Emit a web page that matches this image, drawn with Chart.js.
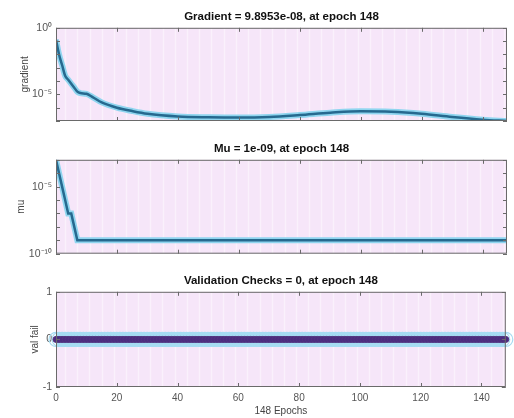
<!DOCTYPE html>
<html>
<head>
<meta charset="utf-8">
<script src="https://cdn.jsdelivr.net/npm/chart.js@4.4.0/dist/chart.umd.min.js"></script>
<style>
  body { margin: 0; background: #fff; width: 514px; height: 418px; position: relative; overflow: hidden; }
  canvas { position: absolute; left: 0; }
</style>
</head>
<body>
<canvas id="gradChart" width="514" height="132" style="top:0"></canvas>
<canvas id="muChart" width="514" height="132" style="top:132px"></canvas>
<canvas id="valChart" width="514" height="154" style="top:264px"></canvas>
<script>
// --- data ---
const gradEpochs = [0, 1, 2, 3, 4, 5, 6, 7, 8, 10, 12, 15, 20, 25, 30, 40, 50, 60, 70, 80, 90, 100, 110, 120, 130, 140, 148];
const gradValues = [0.126, 0.01, 1.6e-3, 2.5e-4, 1.26e-4, 6.3e-5, 3.2e-5, 1.6e-5, 1.26e-5, 1.1e-5, 6.3e-6, 2.5e-6, 1e-6,
                    5.6e-7, 3.5e-7, 2.2e-7, 1.9e-7, 1.8e-7, 2e-7, 2.8e-7, 4.2e-7, 5.4e-7, 5e-7, 3.5e-7, 2e-7, 1.26e-7, 9.8953e-8];

const muEpochs = [0, 1, 2, 3, 4, 5, 6, 7, 148];
const muValues = [1e-3, 1e-4, 1e-5, 1e-6, 1e-7, 1e-7, 1e-8, 1e-9, 1e-9];

// validation checks, one per epoch 0..148
const valFail = [
  0,0,0,0,0,0,0,0,0,0, 0,0,0,0,0,0,0,0,0,0, 0,0,0,0,0,0,0,0,0,0,
  0,0,0,0,0,0,0,0,0,0, 0,0,0,0,0,0,0,0,0,0, 0,0,0,0,0,0,0,0,0,0,
  0,0,0,0,0,0,0,0,0,0, 0,0,0,0,0,0,0,0,0,0, 0,0,0,0,0,0,0,0,0,0,
  0,0,0,0,0,0,0,0,0,0, 0,0,0,0,0,0,0,0,0,0, 0,0,0,0,0,0,0,0,0,0,
  0,0,0,0,0,0,0,0,0,0, 0,0,0,0,0,0,0,0,0,0, 0,0,0,0,0,0,0,0,0
];

const xTicks = [0, 20, 40, 60, 80, 100, 120, 140];
const gradTicks = [1e-7, 1e-6, 1e-5, 1e-4, 1e-3, 1e-2, 1e-1, 1];
const gradTickLabels = ['', '', '10⁻⁵', '', '', '', '', '10⁰'];
const muTicks = [1e-10, 1e-9, 1e-8, 1e-7, 1e-6, 1e-5, 1e-4, 1e-3];
const muTickLabels = ['10⁻¹⁰', '', '', '', '', '10⁻⁵', '', ''];
const valTicks = [-1, 0, 1];
const valTickLabels = ['-1', '0', '1'];

const lastEpoch = 148;

Chart.defaults.font.family = '"Liberation Sans", Arial, sans-serif';
Chart.defaults.animation = false;

// pink axes background, faint stripes, box and inward tick marks
const axesBox = {
  id: 'axesBox',
  beforeDatasetsDraw(chart) {
    const { ctx, chartArea: a, scales } = chart;
    ctx.save();
    ctx.fillStyle = '#f6e6f9';
    ctx.fillRect(a.left, a.top, a.width, a.height);
    ctx.strokeStyle = 'rgba(255,255,255,0.45)';
    ctx.lineWidth = 1.5;
    for (let e = 3; e < lastEpoch; e += 4) {
      const x = Math.round(scales.x.getPixelForValue(e)) + 0.5;
      ctx.beginPath();
      ctx.moveTo(x, a.top);
      ctx.lineTo(x, a.bottom);
      ctx.stroke();
    }
    ctx.restore();
  },
  afterDatasetsDraw(chart) {
    const { ctx, chartArea: a, scales } = chart;
    ctx.save();
    ctx.strokeStyle = '#6a6a6a';
    ctx.lineWidth = 1;
    ctx.strokeRect(a.left + 0.5, a.top + 0.5, a.width - 1, a.height - 1);
    ctx.beginPath();
    scales.x.ticks.forEach(t => {
      const x = Math.round(scales.x.getPixelForValue(t.value)) + 0.5;
      ctx.moveTo(x, a.bottom); ctx.lineTo(x, a.bottom - 4);
      ctx.moveTo(x, a.top); ctx.lineTo(x, a.top + 4);
    });
    scales.y.ticks.forEach(t => {
      const y = Math.round(scales.y.getPixelForValue(t.value)) + 0.5;
      ctx.moveTo(a.left, y); ctx.lineTo(a.left + 4, y);
      ctx.moveTo(a.right, y); ctx.lineTo(a.right - 4, y);
    });
    ctx.stroke();
    ctx.restore();
  }
};

function xAxis(showLabels) {
  return {
    type: 'linear',
    min: 0,
    max: lastEpoch,
    display: showLabels,
    afterBuildTicks: s => { s.ticks = xTicks.map(v => ({ value: v })); },
    afterFit: s => { if (showLabels) s.height = 31; },
    grid: { display: false, drawTicks: false },
    border: { display: false },
    ticks: { autoSkip: false, maxRotation: 0, padding: 5, color: '#555', font: { size: 10 } },
    title: { display: showLabels, text: lastEpoch + ' Epochs', color: '#444', font: { size: 10 }, padding: { top: 0, bottom: 1 } }
  };
}

function yAxis(type, ticks, labels, title, titlePad) {
  return {
    type: type,
    min: ticks[0],
    max: ticks[ticks.length - 1],
    afterFit: s => { s.width = 56; },
    afterBuildTicks: s => { s.ticks = ticks.map(v => ({ value: v })); },
    grid: { display: false, drawTicks: false },
    border: { display: false },
    ticks: { autoSkip: false, padding: 4, color: '#555', font: { size: 10.5 }, callback: (v, i) => labels[i] },
    title: { display: true, text: title, color: '#444', font: { size: 10 }, padding: { top: titlePad, bottom: 0 } }
  };
}

function panelOptions(titleText, yScale, showX, padBottom) {
  return {
    responsive: false,
    layout: { padding: { top: 0, right: 7, bottom: padBottom, left: 0 } },
    plugins: {
      legend: { display: false },
      tooltip: { enabled: false },
      title: {
        display: true, text: titleText, fullSize: false, color: '#111',
        font: { size: 11.5, weight: 'bold' }, padding: { top: 10, bottom: 4 }
      }
    },
    scales: { x: xAxis(showX), y: yScale }
  };
}

function xy(epochs, values) {
  return epochs.map((e, i) => ({ x: e, y: values[i] }));
}

// gradient
new Chart(document.getElementById('gradChart'), {
  type: 'line',
  data: {
    datasets: [
      { data: xy(gradEpochs, gradValues), borderColor: '#26698f', borderWidth: 2.5, pointRadius: 0, tension: 0.35, cubicInterpolationMode: 'monotone' },
      { data: xy(gradEpochs, gradValues), borderColor: '#8fd5ef', borderWidth: 6, pointRadius: 0, tension: 0.35, cubicInterpolationMode: 'monotone' }
    ]
  },
  options: panelOptions('Gradient = 9.8953e-08, at epoch 148', yAxis('logarithmic', gradTicks, gradTickLabels, 'gradient', 19), false, 11),
  plugins: [axesBox]
});

// mu
new Chart(document.getElementById('muChart'), {
  type: 'line',
  data: {
    datasets: [
      { data: xy(muEpochs, muValues), borderColor: '#26698f', borderWidth: 2.5, pointRadius: 0 },
      { data: xy(muEpochs, muValues), borderColor: '#8fd5ef', borderWidth: 6, pointRadius: 0 }
    ]
  },
  options: panelOptions('Mu = 1e-09, at epoch 148', yAxis('logarithmic', muTicks, muTickLabels, 'mu', 15), false, 10),
  plugins: [axesBox]
});

// validation checks: dense circle markers merge into a band
const valPoints = valFail.map((v, i) => ({ x: i, y: v }));
new Chart(document.getElementById('valChart'), {
  type: 'line',
  data: {
    datasets: [
      { data: valPoints, clip: false, borderColor: '#4c2c7f', borderWidth: 6,
        pointRadius: 3, pointBackgroundColor: '#4c2c7f', pointBorderColor: '#52347f', pointBorderWidth: 1 },
      { data: valPoints, clip: false, borderColor: '#a6dcf2', borderWidth: 14,
        pointRadius: 7, pointBackgroundColor: 'rgba(0,0,0,0)', pointBorderColor: '#a6dcf2', pointBorderWidth: 1.2 }
    ]
  },
  options: panelOptions('Validation Checks = 0, at epoch 148', yAxis('linear', valTicks, valTickLabels, 'val fail', 29), true, 0),
  plugins: [axesBox]
});
</script>
</body>
</html>
